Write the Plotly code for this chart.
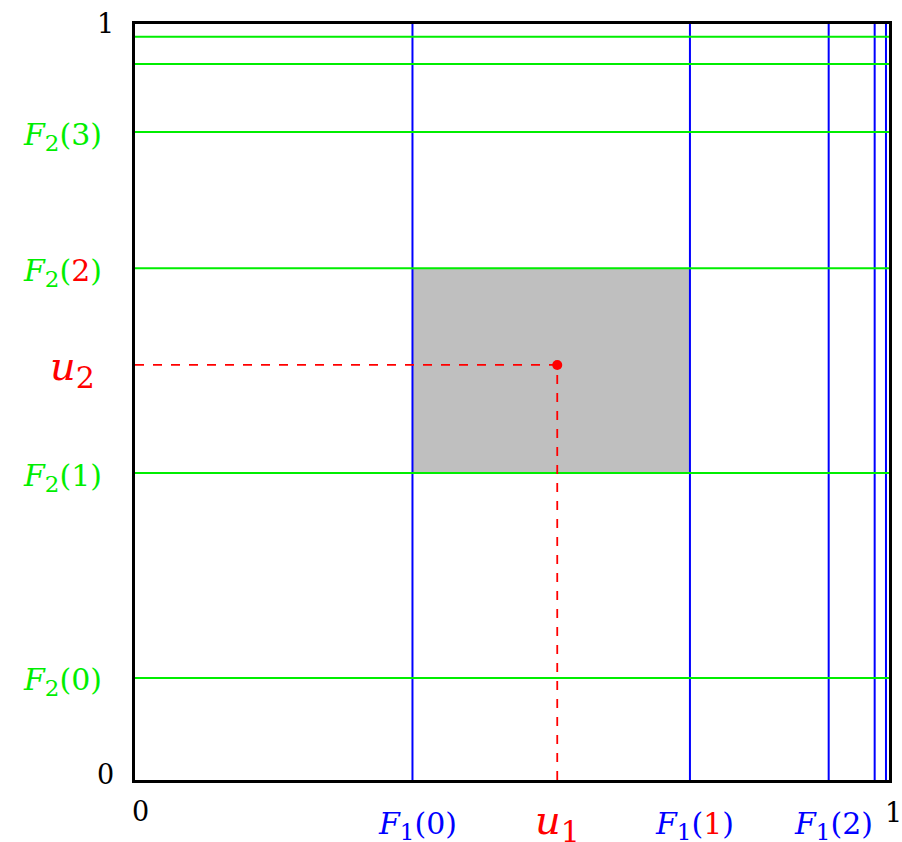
import plotly.graph_objects as go

# Data
F1 = [0.368, 0.736, 0.920, 0.981, 0.996]            # blue vertical lines
F2 = [0.135, 0.406, 0.677, 0.857, 0.947, 0.983]     # green horizontal lines
u1, u2 = 0.560, 0.549
F1_labels = {0: "0", 1: "1", 2: "2"}
F2_labels = {0: "0", 1: "1", 2: "2", 3: "3"}
red_idx_1 = 1
red_idx_2 = 2

FONT = "DejaVu Serif"
BLUE = "#0000ff"
GREEN = "#00ee00"
RED = "#ff0000"
FS = 30
SUB = 23

fig = go.Figure()

shapes = []
shapes.append(dict(type="rect", xref="x", yref="y", x0=F1[0], x1=F1[1], y0=F2[1], y1=F2[2],
                   fillcolor="#bfbfbf", line=dict(width=0), layer="below"))
for v in F1:
    shapes.append(dict(type="line", xref="x", yref="y", x0=v, x1=v, y0=0, y1=1,
                       line=dict(color=BLUE, width=2)))
for v in F2:
    shapes.append(dict(type="line", xref="x", yref="y", x0=0, x1=1, y0=v, y1=v,
                       line=dict(color=GREEN, width=2)))
shapes.append(dict(type="line", xref="x", yref="y", x0=0, x1=u1, y0=u2, y1=u2,
                   line=dict(color=RED, width=1.8, dash="dash")))
shapes.append(dict(type="line", xref="x", yref="y", x0=u1, x1=u1, y0=0, y1=u2,
                   line=dict(color=RED, width=1.8, dash="dash")))

fig.add_trace(go.Scatter(x=[u1], y=[u2], mode="markers",
                         marker=dict(color=RED, size=10), showlegend=False, hoverinfo="skip"))


def sub(s, size):
    return f"<sub><span style='font-size:{size}px'>{s}</span></sub>"


def lab(k, red):
    d = str(k)
    if red:
        return f"<span style='color:{RED}'>{d}</span>"
    return d


ann = []
for k in F1_labels:
    txt = f"<i>F</i>{sub('1', SUB)}({lab(F1_labels[k], k == red_idx_1)})"
    ann.append(dict(x=F1[k], y=0, xref="x", yref="y", text=txt, showarrow=False,
                    xanchor="center", yanchor="middle", xshift=5, yshift=-45,
                    font=dict(family=FONT, size=FS, color=BLUE)))
for k in F2_labels:
    txt = f"<i>F</i>{sub('2', SUB)}({lab(F2_labels[k], k == red_idx_2)})"
    ann.append(dict(x=0, y=F2[k], xref="x", yref="y", text=txt, showarrow=False,
                    xanchor="right", yanchor="middle", xshift=-31, yshift=-4,
                    font=dict(family=FONT, size=FS, color=GREEN)))

ann.append(dict(x=u1, y=0, xref="x", yref="y", text="<i>u</i>" + sub("1", 30), showarrow=False,
                xanchor="center", yanchor="middle", yshift=-43,
                font=dict(family=FONT, size=40, color=RED)))
ann.append(dict(x=0, y=u2, xref="x", yref="y", text="<i>u</i>" + sub("2", 30), showarrow=False,
                xanchor="right", yanchor="middle", xshift=-38, yshift=-4,
                font=dict(family=FONT, size=40, color=RED)))

# corner tick labels
TFS = 27
ann.append(dict(x=0, y=1, xref="x", yref="y", text="1", showarrow=False, xanchor="center",
                yanchor="middle", xshift=-30, yshift=1, font=dict(family=FONT, size=TFS, color="black")))
ann.append(dict(x=0, y=0, xref="x", yref="y", text="0", showarrow=False, xanchor="center",
                yanchor="middle", xshift=-30, yshift=6, font=dict(family=FONT, size=TFS, color="black")))
ann.append(dict(x=0, y=0, xref="x", yref="y", text="0", showarrow=False, xanchor="center",
                yanchor="middle", xshift=5, yshift=-31, font=dict(family=FONT, size=TFS, color="black")))
ann.append(dict(x=1, y=0, xref="x", yref="y", text="1", showarrow=False, xanchor="center",
                yanchor="middle", xshift=4, yshift=-32, font=dict(family=FONT, size=TFS, color="black")))

fig.update_layout(
    width=902, height=842,
    margin=dict(l=135, r=10, t=24, b=62),
    paper_bgcolor="white", plot_bgcolor="white",
    shapes=shapes, annotations=ann, showlegend=False,
    xaxis=dict(range=[0, 1], showgrid=False, zeroline=False, showticklabels=False, ticks="",
               showline=True, mirror=True, linecolor="black", linewidth=3, fixedrange=True),
    yaxis=dict(range=[0, 1], showgrid=False, zeroline=False, showticklabels=False, ticks="",
               showline=True, mirror=True, linecolor="black", linewidth=3, fixedrange=True),
)

fig.write_html("out.html")
